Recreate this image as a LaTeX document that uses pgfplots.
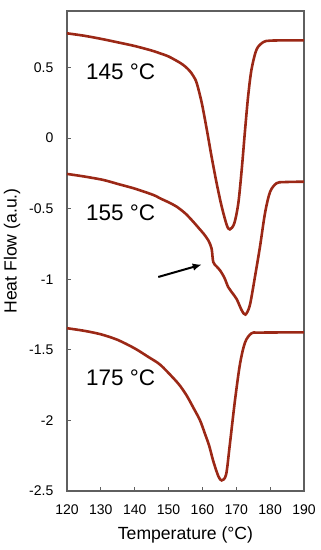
\documentclass[border=0pt]{standalone}
\usepackage{pgfplots}
\pgfplotsset{compat=1.18}
\usepackage{fontspec}
\setmainfont{Liberation Sans}
\usetikzlibrary{arrows.meta}
\definecolor{curve}{RGB}{155,40,22}
\definecolor{axgray}{RGB}{95,95,95}
\begin{document}
\begin{tikzpicture}
\useasboundingbox (-67pt,-59pt) rectangle (254pt,491pt);
\begin{axis}[
  at={(0pt,0pt)}, anchor=south west,
  scale only axis, width=237pt, height=480pt,
  xmin=120, xmax=190, ymin=-2.5, ymax=0.9,
  xtick={120,130,...,190}, ytick={-2.5,-2,...,0.5},
  xtick pos=bottom, ytick pos=left, tick align=inside,
  axis line style={axgray, line width=1.2pt},
  major tick style={axgray, line width=1pt}, major tick length=4.5pt,
  /pgf/number format/assume math mode=true,
  /pgf/number format/fixed,
  ticklabel style={font=\fontsize{14}{14}\selectfont, inner sep=0pt},
  yticklabel style={anchor=east, xshift=-13.5pt},
  xticklabel style={anchor=north, yshift=-14pt},
  xlabel={Temperature (°C)}, ylabel={Heat Flow (a.u.)},
  label style={font=\fontsize{17.6}{17.6}\selectfont, inner sep=0pt},
  xlabel style={at={(axis description cs:0.5,-0.102)}, anchor=base},
  ylabel style={at={(axis description cs:-0.232,0.5)}, anchor=center},
  clip=false,
]
\addplot[curve, line width=2.6pt, smooth] coordinates {
(120,0.742) (125,0.725) (130,0.703) (135,0.678) (140,0.652) (145,0.620)
(147.5,0.600) (150,0.578) (153.4,0.533) (155,0.505) (156.3,0.474) (157.3,0.44)
(158.3,0.391) (159.8,0.249) (161.3,0.059) (162.7,-0.131) (164.2,-0.32)
(165.7,-0.486) (167.2,-0.617) (168.1,-0.647) (169.4,-0.605) (170.6,-0.462)
(171.6,-0.225) (172.6,0.059) (173.5,0.296) (174.5,0.486) (176.0,0.628)
(178.0,0.68) (180,0.69) (185,0.692) (190,0.692)
};
\addplot[curve, line width=2.6pt, smooth] coordinates {
(120,-0.254) (125,-0.272) (130,-0.293) (132.7,-0.309) (135,-0.325) (140,-0.358)
(145.5,-0.403) (147.5,-0.427) (150,-0.455) (152.4,-0.486) (155,-0.535)
(157.3,-0.593) (159,-0.64) (160.3,-0.676) (161.7,-0.723) (162.7,-0.782)
(163.2,-0.878) (164.2,-0.91) (165.2,-0.937) (166.5,-0.99) (167.6,-1.055)
(168.6,-1.09) (170.1,-1.14) (171.6,-1.22) (172.7,-1.25) (174,-1.185)
(175.5,-0.985) (177,-0.77) (178.5,-0.53) (180,-0.38) (181.9,-0.32)
(184,-0.312) (190,-0.309)
};
\addplot[curve, line width=2.6pt, smooth] coordinates {
(120,-1.347) (125,-1.365) (130,-1.39) (135,-1.43) (140,-1.49) (144,-1.55)
(147.5,-1.605) (151.4,-1.70) (153.4,-1.755) (155.4,-1.826) (157.3,-1.909)
(159.3,-2.0) (160.8,-2.098) (162,-2.18) (163.2,-2.288) (164.7,-2.395)
(165.7,-2.425) (167.0,-2.383) (168.1,-2.17) (169.6,-1.861) (171.1,-1.60)
(172.6,-1.447) (174.5,-1.383) (177,-1.378) (190,-1.376)
};
\node[anchor=west, inner sep=0pt, font=\fontsize{22.5}{22.5}\selectfont] at (axis cs:125.6,0.47) {145 °C};
\node[anchor=west, inner sep=0pt, font=\fontsize{22.5}{22.5}\selectfont] at (axis cs:125.6,-0.528) {155 °C};
\node[anchor=west, inner sep=0pt, font=\fontsize{22.5}{22.5}\selectfont] at (axis cs:125.6,-1.70) {175 °C};
\draw[black, line width=2pt, -{Latex[length=9pt,width=7.5pt]}] (axis cs:146.96,-0.984) -- (axis cs:159.8,-0.896);
\end{axis}
\end{tikzpicture}
\end{document}
